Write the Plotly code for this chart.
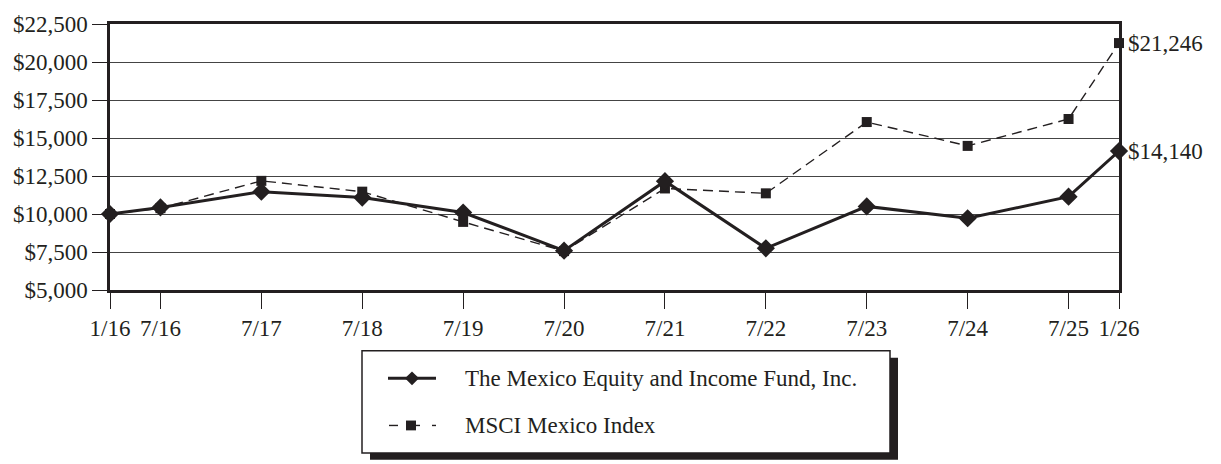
import plotly.graph_objects as go

# ---- data ----
dates = ["1/16", "7/16", "7/17", "7/18", "7/19", "7/20", "7/21", "7/22", "7/23", "7/24", "7/25", "1/26"]
years = [0, 0.5, 1.5, 2.5, 3.5, 4.5, 5.5, 6.5, 7.5, 8.5, 9.5, 10]
fund = [10000, 10430, 11470, 11080, 10100, 7590, 12160, 7740, 10500, 9720, 11140, 14140]
msci = [10000, 10380, 12180, 11470, 9480, 7560, 11680, 11360, 16050, 14480, 16250, 21246]
fund_name = "The Mexico Equity and Income Fund, Inc."
msci_name = "MSCI Mexico Index"
y_ticks = [5000, 7500, 10000, 12500, 15000, 17500, 20000, 22500]
y_labels = [f"${v:,}" for v in y_ticks]

W, H = 1221, 464
L, R, T, B = 110, 102, 19, 174
INK = "#231f20"
FONT = "Liberation Serif"
FS = 23

fig = go.Figure()
fig.add_trace(go.Scatter(x=years, y=msci, mode="lines+markers", name=msci_name,
                         line=dict(color=INK, width=1.4, dash="10px,6px"),
                         marker=dict(symbol="square", size=10, color=INK),
                         cliponaxis=False, showlegend=False))
fig.add_trace(go.Scatter(x=years, y=fund, mode="lines+markers", name=fund_name,
                         line=dict(color=INK, width=3),
                         marker=dict(symbol="diamond", size=14, color=INK),
                         cliponaxis=False, showlegend=False))

# end-value labels
for series in (fund, msci):
    fig.add_annotation(x=years[-1], y=series[-1], xref="x", yref="y",
                       text=f"${series[-1]:,.0f}", showarrow=False,
                       xanchor="left", yanchor="middle", xshift=7,
                       font=dict(family=FONT, size=FS, color=INK))

pw, ph = W - L - R, H - T - B


def px(xp):
    return (xp - L) / pw


def py(yp):
    return (H - B - yp) / ph


shapes = []
# legend shadow & box
shapes.append(dict(type="rect", xref="paper", yref="paper",
                   x0=px(370), x1=px(898), y0=py(463), y1=py(359),
                   fillcolor=INK, line=dict(width=0), layer="above"))
shapes.append(dict(type="rect", xref="paper", yref="paper",
                   x0=px(362), x1=px(890), y0=py(456), y1=py(352),
                   fillcolor="white", line=dict(color=INK, width=1.5), layer="above"))
# fund sample
ry1 = 380
shapes.append(dict(type="line", xref="paper", yref="paper",
                   x0=px(388), x1=px(436), y0=py(ry1), y1=py(ry1),
                   line=dict(color=INK, width=3), layer="above"))
cx, d = 412, 7
shapes.append(dict(type="path", xref="paper", yref="paper",
                   path=f"M {px(cx-d)} {py(ry1)} L {px(cx)} {py(ry1-d)} L {px(cx+d)} {py(ry1)} L {px(cx)} {py(ry1+d)} Z",
                   fillcolor=INK, line=dict(width=0), layer="above"))
# msci sample
ry2 = 428
for a, b in [(389, 398), (410, 420), (432, 436)]:
    shapes.append(dict(type="line", xref="paper", yref="paper",
                       x0=px(a), x1=px(b), y0=py(ry2), y1=py(ry2),
                       line=dict(color=INK, width=1.4), layer="above"))
s = 5
shapes.append(dict(type="rect", xref="paper", yref="paper",
                   x0=px(411 - s), x1=px(411 + s), y0=py(ry2 + s), y1=py(ry2 - s),
                   fillcolor=INK, line=dict(width=0), layer="above"))

for name, ry in [(fund_name, ry1), (msci_name, ry2)]:
    fig.add_annotation(x=px(463), y=py(ry), xref="paper", yref="paper",
                       text=name, showarrow=False, xanchor="left", yanchor="middle",
                       font=dict(family=FONT, size=FS, color=INK))

fig.update_layout(
    width=W, height=H, margin=dict(l=L, r=R, t=T, b=B, pad=0),
    paper_bgcolor="white", plot_bgcolor="white",
    font=dict(family=FONT, size=FS, color=INK),
    shapes=shapes, showlegend=False,
    xaxis=dict(range=[0, 10], tickvals=years, ticktext=dates,
               showgrid=False, zeroline=False,
               showline=True, linecolor=INK, linewidth=2.5, mirror=True,
               ticks="outside", ticklen=16, tickwidth=1.3, tickcolor=INK,
               tickfont=dict(family=FONT, size=FS, color=INK), fixedrange=True),
    yaxis=dict(range=[5000, 22500], tickvals=y_ticks, ticktext=y_labels,
               showgrid=True, gridcolor="#444444", gridwidth=1.4, zeroline=False,
               showline=True, linecolor=INK, linewidth=2.5, mirror=True,
               ticks="outside", ticklen=15, tickwidth=1.3, tickcolor=INK,
               tickfont=dict(family=FONT, size=FS, color=INK), fixedrange=True),
)

fig.write_html("out.html", config={"displayModeBar": False},
               post_script="document.body.style.margin='0';document.body.style.overflow='hidden';")
